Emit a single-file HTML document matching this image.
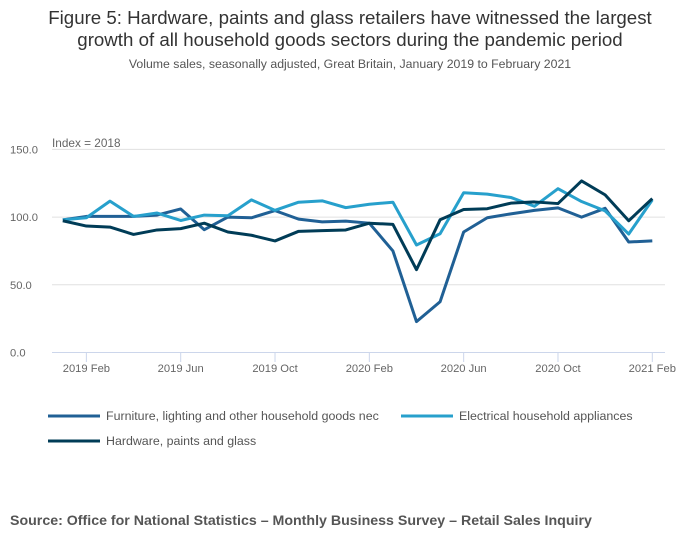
<!DOCTYPE html>
<html><head><meta charset="utf-8"><style>
body{margin:0;background:#fff;font-family:"Liberation Sans",sans-serif;}
#wrap{position:relative;width:700px;height:549px;overflow:hidden;}
.t{position:absolute;white-space:nowrap;}
</style></head><body>
<div id="wrap">
<div class="t" style="left:0;width:700px;top:7px;text-align:center;font-size:18.7px;line-height:22px;color:#333;">Figure 5: Hardware, paints and glass retailers have witnessed the largest<br>growth of all household goods sectors during the pandemic period</div>
<div class="t" style="left:0;width:700px;top:57px;text-align:center;font-size:12.3px;color:#555;">Volume sales, seasonally adjusted, Great Britain, January 2019 to February 2021</div>
<svg id="chart" width="700" height="549" style="position:absolute;left:0;top:0"></svg>
<div class="t" style="left:10px;top:513px;font-size:14.2px;font-weight:bold;color:#555;">Source: Office for National Statistics – Monthly Business Survey – Retail Sales Inquiry</div>
</div>
<script>
const months = ["2019 Jan","2019 Feb","2019 Mar","2019 Apr","2019 May","2019 Jun","2019 Jul","2019 Aug","2019 Sep","2019 Oct","2019 Nov","2019 Dec","2020 Jan","2020 Feb","2020 Mar","2020 Apr","2020 May","2020 Jun","2020 Jul","2020 Aug","2020 Sep","2020 Oct","2020 Nov","2020 Dec","2021 Jan","2021 Feb"];
const furniture = [98,100.5,100.5,100.5,101.5,106,90.7,100,99.5,104.8,98.5,96.5,97,95.5,75,22.8,37.5,89,99.5,102.4,105,106.8,100,106.5,81.6,82.4];
const electrical = [98,99.5,111.8,100.5,103,97.5,101.5,101,112.7,105,111,112,107,109.5,111,79.4,87.7,118,117,114.5,108,121,111.5,104.6,87.5,112.7];
const hardware = [97.3,93.4,92.6,87.2,90.5,91.5,95.5,89,86.6,82.4,89.5,90,90.5,95.5,94.6,61.2,98,105.6,106.2,110.3,111.2,110,126.7,116.4,97.3,113.7];
const yTicks = [0,50,100,150];
const yTickLabels = ["0.0","50.0","100.0","150.0"];
const xTickIdx = [1,5,9,13,17,21,25];
const xTickLabels = ["2019 Feb","2019 Jun","2019 Oct","2020 Feb","2020 Jun","2020 Oct","2021 Feb"];

const NS="http://www.w3.org/2000/svg";
const svg=document.getElementById('chart');
const X=i=>62.8+i*23.58;
const Y=v=>352.5-v*1.354;
function mk(tag,attrs,parent){const e=document.createElementNS(NS,tag);for(const k in attrs)e.setAttribute(k,attrs[k]);(parent||svg).appendChild(e);return e;}
yTicks.forEach((v,i)=>{
  if(v>0){const g=mk('line',{x1:52,x2:665,y1:Y(v),y2:Y(v),stroke:'#e0e0e0','stroke-width':1});
  
  }
  const t=mk('text',{x:10,y:Y(v)+4,'font-size':11.2,fill:'#666','font-family':'Liberation Sans, sans-serif'});
  t.textContent=yTickLabels[i];
  
  
});
const ix=mk('text',{x:52,y:147,'font-size':11.8,fill:'#666','font-family':'Liberation Sans, sans-serif'});
ix.textContent='Index = 2018';


const ax=mk('line',{x1:52,x2:665,y1:352.5,y2:352.5,stroke:'#ccd6eb','stroke-width':1});


xTickIdx.forEach((m,i)=>{
  const tk=mk('line',{x1:X(m),x2:X(m),y1:352.5,y2:362,stroke:'#ccd6eb','stroke-width':1});
  
  
  const t=mk('text',{x:X(m),y:372,'font-size':11.2,fill:'#666','text-anchor':'middle','font-family':'Liberation Sans, sans-serif'});
  t.textContent=xTickLabels[i];
  
  
});
const series=[[furniture,'#206095','furniture-line'],[electrical,'#27a0cc','electrical-line'],[hardware,'#003c57','hardware-line']];
series.forEach(s=>{
  const p=mk('polyline',{points:s[0].map((v,i)=>X(i)+','+Y(v)).join(' '),fill:'none',stroke:s[1],'stroke-width':3,'stroke-linejoin':'round'});
  
  
});
const legend=[[48,416,'#206095','Furniture, lighting and other household goods nec'],[401,416,'#27a0cc','Electrical household appliances'],[48,441,'#003c57','Hardware, paints and glass']];
legend.forEach(l=>{
  const g=mk('g',{});
  
  
  mk('line',{x1:l[0],x2:l[0]+52,y1:l[1],y2:l[1],stroke:l[2],'stroke-width':3},g);
  const t=mk('text',{x:l[0]+58,y:l[1]+4,'font-size':12.4,fill:'#555','font-family':'Liberation Sans, sans-serif'},g);
  t.textContent=l[3];
});
</script>
</body></html>
